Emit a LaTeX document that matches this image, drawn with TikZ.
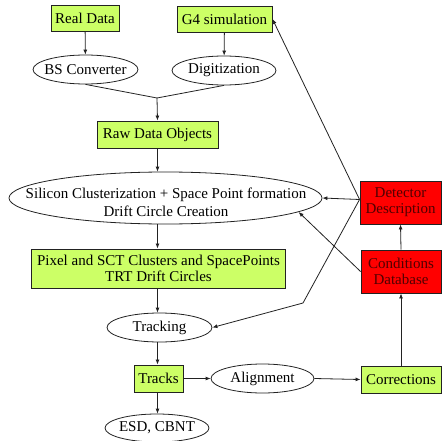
\documentclass[tikz,border=0pt]{standalone}
\usepackage{fontspec}
\setmainfont{Liberation Serif}
\usetikzlibrary{shapes.geometric,arrows.meta}
\definecolor{lgreen}{HTML}{CCFF66}
\definecolor{dred}{HTML}{FF0000}
\definecolor{rtext}{HTML}{500000}
\definecolor{edge}{HTML}{222222}
\begin{document}
\begin{tikzpicture}[x=1pt,y=-1pt,
  font=\fontsize{15}{16}\selectfont,
  gbox/.style={draw=edge,line width=0.9pt,fill=lgreen,inner sep=0pt,align=center,text=black},
  rbox/.style={draw=edge,line width=0.9pt,fill=dred,inner sep=0pt,align=center,text=rtext},
  ell/.style={draw=edge,line width=0.8pt,ellipse,inner sep=0pt},
  etext/.style={inner sep=0pt,align=center,text=black},
  conn/.style={draw=edge,line width=0.8pt,-{Latex[length=5pt,width=4pt]}},
  plain/.style={draw=edge,line width=0.8pt}]
\useasboundingbox (0,0) rectangle (441,441);
% nodes
\node[gbox,minimum width=68pt,minimum height=26pt] (real) at (85,18.5) {Real Data};
\node[gbox,minimum width=95pt,minimum height=26pt] (g4) at (224.5,19) {G4 simulation};
\node[ell,minimum width=105pt,minimum height=29pt] (bs) at (85.5,69.5) {};
\node[etext] (bst) at (bs) {BS Converter};
\node[ell,minimum width=104pt,minimum height=29pt] (digi) at (224,70.5) {};
\node[etext] (digit) at (digi) {Digitization};
\coordinate (merge) at (157,98);
\node[gbox,minimum width=121pt,minimum height=27pt] (raw) at (157.5,134.5) {Raw Data Objects};
\node[ell,minimum width=313pt,minimum height=52pt] (sil) at (165.5,198) {};
\node[etext,font=\fontsize{15}{18}\selectfont] (silt) at (166,202) {Silicon Clusterization + Space Point formation\\Drift Circle Creation};
\node[gbox,minimum width=254pt,minimum height=39pt] (pix) at (158.5,268.5) {Pixel and SCT Clusters and SpacePoints\\TRT Drift Circles};
\node[ell,minimum width=105pt,minimum height=29pt] (trk) at (159.5,327.5) {};
\node[etext] (trkt) at (trk) {Tracking};
\node[gbox,minimum width=49pt,minimum height=27pt] (tracks) at (158.5,378.5) {Tracks};
\node[ell,minimum width=103pt,minimum height=29pt] (align) at (262.5,378.5) {};
\node[etext] (alignt) at (align) {Alignment};
\node[gbox,minimum width=80pt,minimum height=27pt] (corr) at (401,379.5) {Corrections};
\node[ell,minimum width=104pt,minimum height=28pt] (esd) at (157,428) {};
\node[etext] (esdt) at (esd) {ESD, CBNT};
\node[rbox,minimum width=81pt,minimum height=43pt] (det) at (400.5,202.5) {Detector\\Description};
\node[rbox,minimum width=80pt,minimum height=43pt] (cond) at (401,271.5) {Conditions\\Database};
\coordinate (bend) at (303,303);
% connectors
\draw[conn] (real) -- (bs);
\draw[conn] (g4) -- (digi);
\draw[plain] (bs.south) -- (merge) -- (digi.south);
\draw[conn] (merge) -- (raw.north);
\draw[conn] (raw.south) -- (raw.south |- sil.north);
\draw[conn] (raw.south |- sil.south) -- (raw.south |- pix.north);
\draw[conn] (raw.south |- pix.south) -- (raw.south |- trk.north);
\draw[conn] (raw.south |- trk.south) -- (raw.south |- tracks.north);
\draw[conn] (raw.south |- tracks.south) -- (raw.south |- esd.north);
\draw[conn] (tracks.east) -- (align.west);
\draw[conn] (align.east) -- (corr.west);
\draw[conn] (corr.north) -- (cond.south);
\draw[conn] (cond.north) -- (det.south);
\draw[conn] ([yshift=3pt]det.west) -- (sil.east);
\draw[conn] ([yshift=3pt]det.west) -- (g4.east);
\draw[conn] ([yshift=3pt]det.west) -- (bend) -- (trk.east);
\draw[conn] (cond.west) -- (sil.-6);
\end{tikzpicture}
\end{document}
